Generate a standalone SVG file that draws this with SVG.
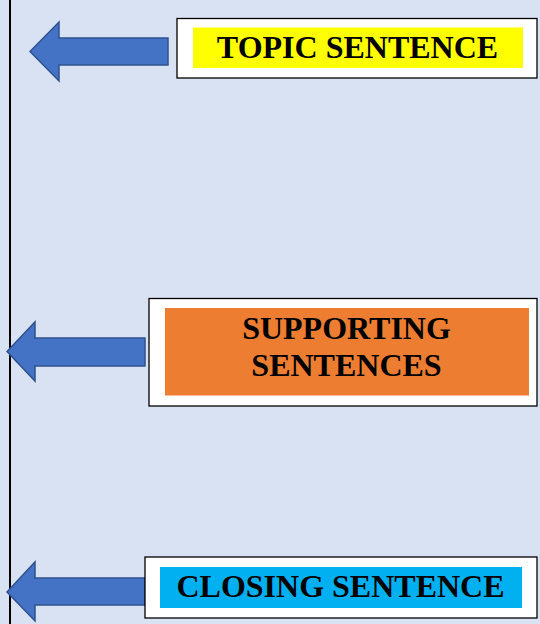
<svg xmlns="http://www.w3.org/2000/svg" width="540" height="624" viewBox="0 0 540 624">
  <style>
    .arrow { fill: #4472C4; stroke: #2F528F; stroke-width: 1.5; stroke-linejoin: miter; }
    .box { fill: #FFFFFF; stroke: #000000; stroke-width: 1.3; }
    .label { font-family: "Liberation Serif", "Times New Roman", serif; font-weight: bold; font-size: 32px; fill: #000000; text-anchor: middle; }
  </style>
  <rect x="0" y="0" width="540" height="624" fill="#D9E2F3"/>
  <line x1="10" y1="0" x2="10" y2="624" stroke="#000000" stroke-width="2"/>

  <g id="connectors">
    <polygon class="arrow" points="30,51.5 59,22 59,38 168,38 168,65 59,65 59,81"/>
    <polygon class="arrow" points="7,351.5 35,322 35,338 145,338 145,366 35,366 35,381"/>
    <polygon class="arrow" points="7,592 35,562 35,578 145,578 145,605 35,605 35,621"/>
  </g>

  <g id="topic">
    <rect class="box" x="177" y="18.5" width="360" height="59.5"/>
    <rect x="193" y="27.5" width="330" height="40.5" fill="#FFFF00"/>
    <text class="label" x="357.5" y="57.5">TOPIC SENTENCE</text>
  </g>

  <g id="supporting">
    <rect class="box" x="149" y="298.5" width="388" height="107.5"/>
    <rect x="165" y="308" width="364" height="87.5" fill="#ED7D31"/>
    <text class="label" x="346.5" y="338.5">SUPPORTING</text>
    <text class="label" x="346.5" y="376">SENTENCES</text>
  </g>

  <g id="closing">
    <rect class="box" x="145" y="557" width="392" height="61"/>
    <rect x="160" y="567" width="362" height="41" fill="#00B0F0"/>
    <text class="label" x="340.5" y="597">CLOSING SENTENCE</text>
  </g>
</svg>
